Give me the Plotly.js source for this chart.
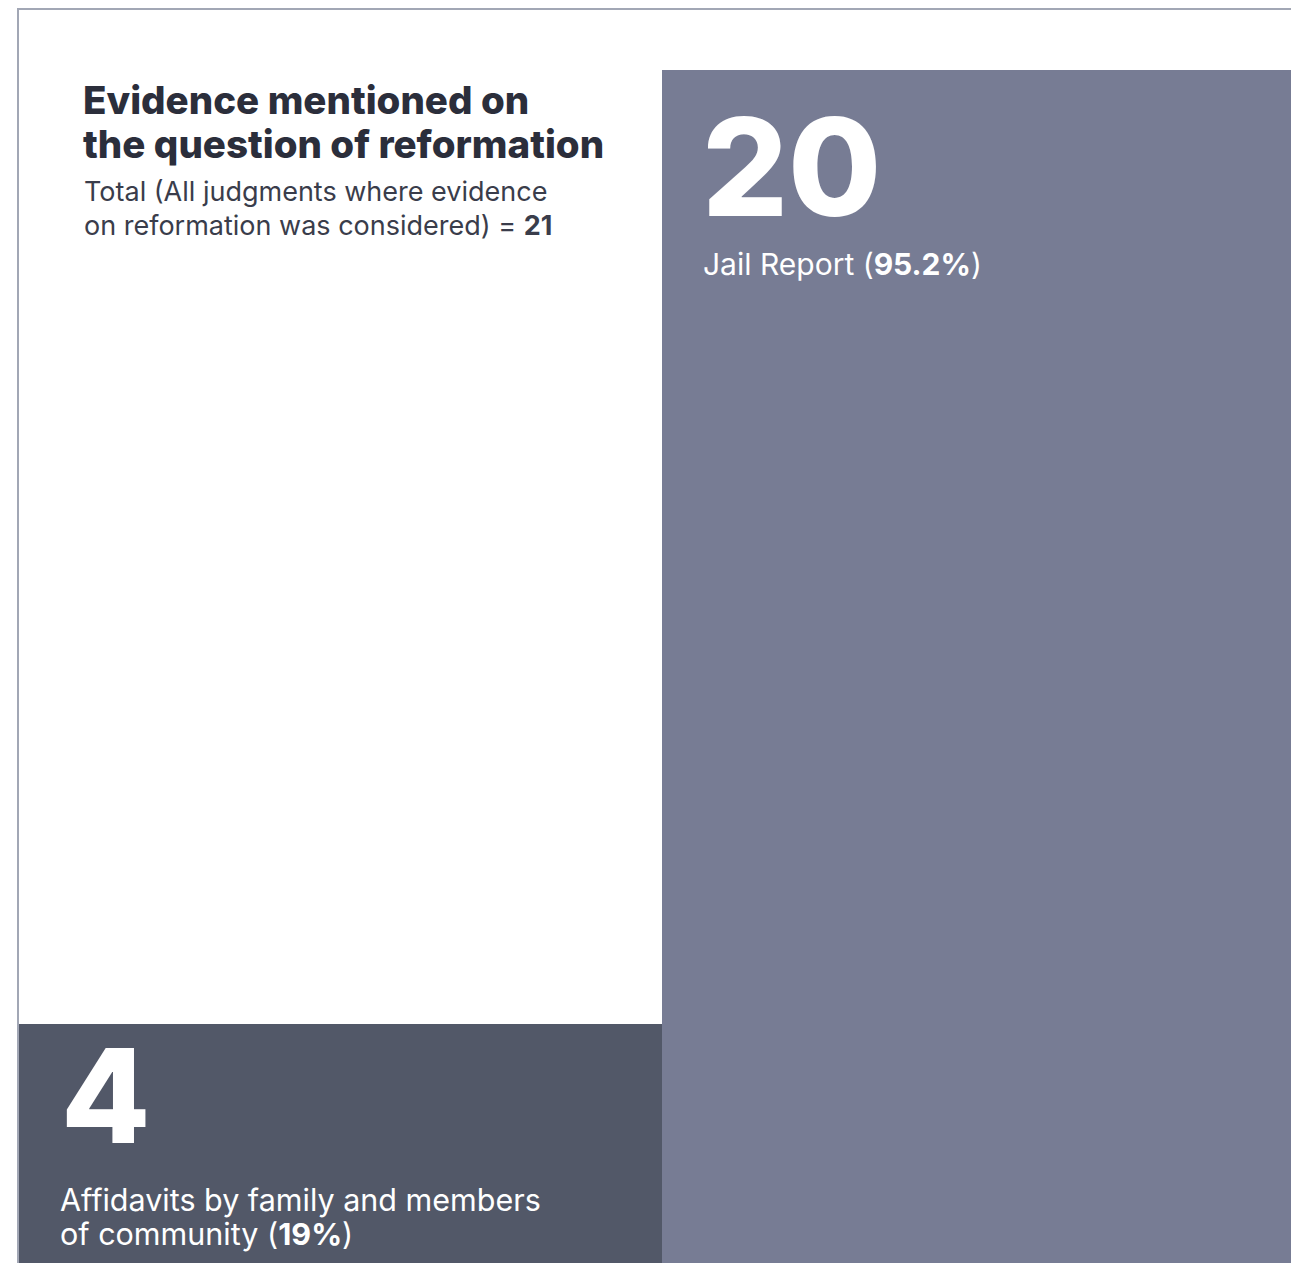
<!DOCTYPE html>
<html>
<head>
<meta charset="utf-8">
<script src="https://cdn.plot.ly/plotly-3.0.1.min.js"></script>
<style>html,body{margin:0;padding:0;background:#fff;}#chart{width:1291px;height:1263px;}</style>
</head>
<body>
<div id="chart"></div>
<script>
const categories = ["Affidavits by family and members of community", "Jail Report"];
const labelLines = [["Affidavits by family and members", "of community"], ["Jail Report"]];
const values = [4, 20];
const percents = ["19%", "95.2%"];
const total = 21;
const barColors = ["#525868", "#777c94"];
const titleLines = ["Evidence mentioned on", "the question of reformation"];
const subtitleLines = ["Total (All judgments where evidence", "on reformation was considered) = "];

const W = 1291, H = 1263;
const M = {l: 19, r: 0, t: 10, b: 0};
const PW = W - M.l - M.r, PH = H - M.t - M.b;
const px = x => (x - M.l) / PW;
const py = y => (H - M.b - y) / PH;

const FONT = "Inter, 'Open Sans', sans-serif";

const trace = {
  type: "bar",
  x: categories,
  y: values,
  width: 1,
  marker: {color: barColors, line: {width: 0}},
  hoverinfo: "skip",
  textposition: "none"
};

function ann(x, y, text, size, color, weight) {
  return {xref: "paper", yref: "paper", x: px(x), y: py(y), xanchor: "left", yanchor: "top", align: "left",
    text: text, showarrow: false, font: {family: FONT, size: size, color: color, weight: weight || 400}};
}

const annotations = [
  ann(81, 75, titleLines[0], 38.5, "#2b2e3b", 800),
  ann(81, 119, titleLines[1], 38.5, "#2b2e3b", 800),
  ann(82, 173, subtitleLines[0], 27, "#3a3d4b"),
  ann(82, 207, subtitleLines[1] + "<b>" + total + "</b>", 27, "#3a3d4b"),
  // Jail report
  ann(700, 83, String(values[1]), 135, "#ffffff", 800),
  ann(701, 244, labelLines[1][0] + " (<b>" + percents[1] + "</b>)", 30, "#ffffff"),
  // Affidavits
  ann(59, 1015, String(values[0]), 130, "#ffffff", 800),
  ann(58, 1179, labelLines[0][0], 30.5, "#ffffff"),
  ann(58, 1213, labelLines[0][1] + " (<b>" + percents[0] + "</b>)", 30.5, "#ffffff")
];

const layout = {
  width: W, height: H,
  margin: M,
  paper_bgcolor: "#ffffff",
  plot_bgcolor: "#ffffff",
  showlegend: false,
  bargap: 0,
  xaxis: {
    type: "category",
    range: [-0.5, 1.478],
    side: "top",
    showline: true, linecolor: "#a2a7b5", linewidth: 2,
    showticklabels: false, ticks: "", showgrid: false, zeroline: false, fixedrange: true
  },
  yaxis: {
    range: [0, total],
    showline: true, linecolor: "#a2a7b5", linewidth: 2,
    showticklabels: false, ticks: "", showgrid: false, zeroline: false, fixedrange: true
  },
  annotations: annotations
};

Plotly.newPlot("chart", [trace], layout, {displayModeBar: false, staticPlot: true});
</script>
</body>
</html>
